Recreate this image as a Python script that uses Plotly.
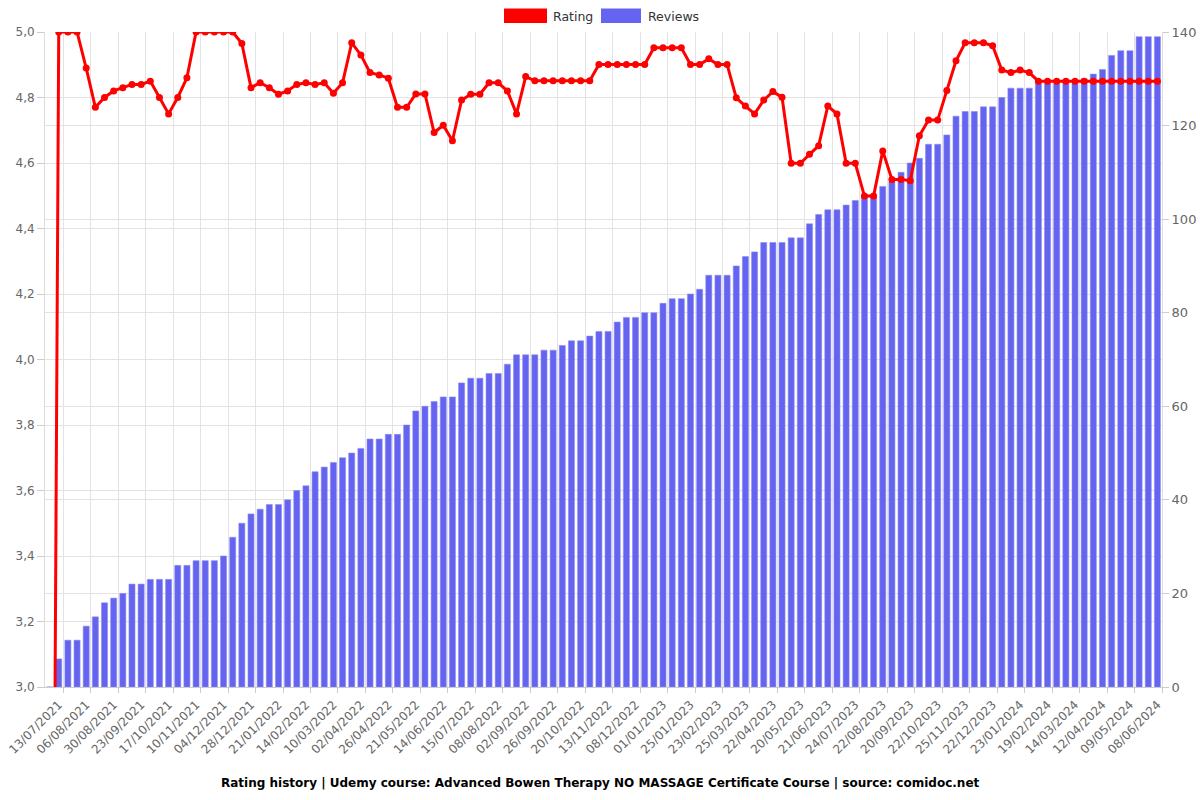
import plotly.graph_objects as go

tick_labels = [
    "13/07/2021", "06/08/2021", "30/08/2021", "23/09/2021", "17/10/2021", "10/11/2021",
    "04/12/2021", "28/12/2021", "21/01/2022", "14/02/2022", "10/03/2022", "02/04/2022",
    "26/04/2022", "21/05/2022", "14/06/2022", "15/07/2022", "08/08/2022", "02/09/2022",
    "26/09/2022", "20/10/2022", "13/11/2022", "08/12/2022", "01/01/2023", "25/01/2023",
    "23/02/2023", "25/03/2023", "22/04/2023", "20/05/2023", "21/06/2023", "24/07/2023",
    "22/08/2023", "20/09/2023", "22/10/2023", "25/11/2023", "22/12/2023", "23/01/2024",
    "19/02/2024", "14/03/2024", "12/04/2024", "09/05/2024", "08/06/2024",
]

rating = [
    0, 5.0, 5.0, 5.0, 4.89, 4.77, 4.80, 4.82, 4.83, 4.84,
    4.84, 4.85, 4.80, 4.75, 4.80, 4.86, 5.0, 5.0, 5.0, 5.0,
    5.0, 4.965, 4.83, 4.845, 4.83, 4.81, 4.82, 4.84, 4.845, 4.84,
    4.845, 4.813, 4.845, 4.967, 4.93, 4.876, 4.869, 4.859, 4.77, 4.77,
    4.811, 4.811, 4.693, 4.715, 4.668, 4.792, 4.81, 4.81, 4.845, 4.845,
    4.82, 4.75, 4.864, 4.851, 4.851, 4.851, 4.851, 4.851, 4.851, 4.851,
    4.901, 4.901, 4.901, 4.901, 4.901, 4.901, 4.952, 4.952, 4.952, 4.952,
    4.901, 4.901, 4.918, 4.901, 4.901, 4.799, 4.774, 4.75, 4.792, 4.818,
    4.801, 4.599, 4.599, 4.627, 4.653, 4.774, 4.75, 4.599, 4.599, 4.499,
    4.499, 4.637, 4.55, 4.55, 4.546, 4.683, 4.731, 4.731, 4.821, 4.912,
    4.967, 4.967, 4.967, 4.958, 4.884, 4.876, 4.884, 4.876, 4.85, 4.85,
    4.85, 4.85, 4.85, 4.85, 4.85, 4.85, 4.85, 4.85, 4.85, 4.85,
    4.85, 4.85,
]

reviews = [
    0, 6, 10, 10, 13, 15, 18, 19, 20, 22,
    22, 23, 23, 23, 26, 26, 27, 27, 27, 28,
    32, 35, 37, 38, 39, 39, 40, 42, 43, 46,
    47, 48, 49, 50, 51, 53, 53, 54, 54, 56,
    59, 60, 61, 62, 62, 65, 66, 66, 67, 67,
    69, 71, 71, 71, 72, 72, 73, 74, 74, 75,
    76, 76, 78, 79, 79, 80, 80, 82, 83, 83,
    84, 85, 88, 88, 88, 90, 92, 93, 95, 95,
    95, 96, 96, 99, 101, 102, 102, 103, 104, 105,
    105, 107, 108, 110, 112, 113, 116, 116, 118, 122,
    123, 123, 124, 124, 126, 128, 128, 128, 129, 129,
    129, 129, 129, 130, 131, 132, 135, 136, 136, 139,
    139, 139,
]

n = len(reviews)
x = list(range(n))
label_step = 3
label_pos = [1 + label_step * k for k in range(len(tick_labels))]
grid_pos = [p + 0.5 for p in label_pos]

RED = "#ff0000"
BLUE = "#6464f0"
GRID = "#e3e3e3"
TXT = "#666666"
FONT = "DejaVu Sans, sans-serif"

# plot area in pixels
L, R, T, B = 45, 1162, 32, 687
W, H = 1200, 800


def px_x(p):
    return (p - L) / (R - L)


def px_y(p):
    return (B - p) / (B - T)


fig = go.Figure()
fig.add_trace(go.Bar(
    x=x, y=reviews, name="Reviews", yaxis="y",
    marker=dict(color=BLUE, line=dict(width=0.6, color="#8c8cf4")),
    width=0.66, showlegend=False,
))
fig.add_trace(go.Scatter(
    x=x, y=rating, name="Rating", yaxis="y2", mode="lines+markers",
    line=dict(color=RED, width=3),
    marker=dict(color=RED, size=7),
    showlegend=False,
))

shapes = [
    dict(type="rect", xref="paper", yref="paper",
         x0=px_x(504), x1=px_x(547), y0=px_y(23), y1=px_y(8.5),
         fillcolor=RED, line=dict(width=0)),
    dict(type="rect", xref="paper", yref="paper",
         x0=px_x(601), x1=px_x(641), y0=px_y(23), y1=px_y(8.5),
         fillcolor=BLUE, line=dict(width=0)),
]
annotations = [
    dict(text="Rating", xref="paper", yref="paper", x=px_x(551), y=px_y(16),
         xanchor="left", yanchor="middle", showarrow=False,
         font=dict(family=FONT, size=12.5, color="#333333")),
    dict(text="Reviews", xref="paper", yref="paper", x=px_x(646), y=px_y(16),
         xanchor="left", yanchor="middle", showarrow=False,
         font=dict(family=FONT, size=12.5, color="#333333")),
    dict(text="<b>Rating history | Udemy course: Advanced Bowen Therapy NO MASSAGE Certificate Course | source: comidoc.net</b>",
         xref="paper", yref="paper", x=px_x(600), y=px_y(783),
         xanchor="center", yanchor="middle", showarrow=False,
         font=dict(family=FONT, size=12, color="#000000")),
]

fig.update_layout(
    width=W, height=H,
    margin=dict(l=L, r=W - R, t=T, b=H - B, autoexpand=False),
    paper_bgcolor="white", plot_bgcolor="white",
    separators=", ",
    barmode="overlay",
    bargap=0.3,
    font=dict(family=FONT, size=12, color=TXT),
    showlegend=False,
    shapes=shapes,
    annotations=annotations,
    xaxis=dict(
        type="linear", range=[-0.5, n - 0.5],
        tickmode="array", tickvals=label_pos, ticktext=tick_labels,
        tickangle=-45, ticks="", showgrid=False,
        showline=True, linecolor="#cccccc", linewidth=1,
        ticklabelstandoff=5,
        tickfont=dict(family=FONT, size=12, color=TXT),
        minor=dict(tickmode="array", tickvals=grid_pos, ticks="outside",
                   ticklen=5, tickcolor="#cccccc", showgrid=True,
                   gridcolor=GRID, gridwidth=1),
        zeroline=False, automargin=False,
    ),
    yaxis=dict(
        side="right", range=[0, 140], tickmode="linear", tick0=0, dtick=20,
        showgrid=True, gridcolor=GRID, zeroline=False,
        ticks="outside", ticklen=6, tickcolor="#cccccc",
        showline=True, linecolor="#dddddd",
        tickfont=dict(family=FONT, size=13, color=TXT),
        automargin=False,
    ),
    yaxis2=dict(
        side="left", overlaying="y", range=[3.0, 5.0], tickmode="linear",
        tick0=3.0, dtick=0.2, tickformat=".1f",
        showgrid=True, gridcolor=GRID, zeroline=False,
        ticks="outside", ticklen=7, tickcolor="#cccccc",
        showline=True, linecolor="#dddddd",
        tickfont=dict(family=FONT, size=12, color=TXT),
        automargin=False,
    ),
)

fig.write_html("out.html")
